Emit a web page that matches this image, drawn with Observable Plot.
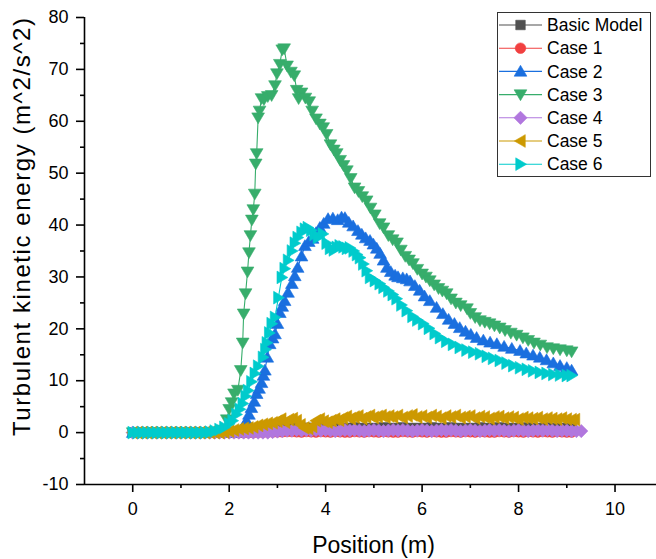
<!DOCTYPE html>
<html><head><meta charset="utf-8">
<script src="https://cdn.jsdelivr.net/npm/d3@7"></script>
<script src="https://cdn.jsdelivr.net/npm/@observablehq/plot@0.6"></script>
<style>
body{margin:0;background:#fff;}
#wrap{position:relative;width:656px;height:559px;font-family:"Liberation Sans",Arial,sans-serif;color:#000;}
#wrap svg{position:absolute;left:0;top:0;}
</style></head><body><div id="wrap"></div>
<script>
const seriesNames = ["Basic Model","Case 1","Case 2","Case 3","Case 4","Case 5","Case 6"];
const seriesColors = ["#515151","#F14040","#1A6FDF","#37AD6B","#B177DE","#CC9900","#00CBCC"];
const seriesSymbols = ["square","circle","up","down","diamond","left","right"];
const xTicks = [0,2,4,6,8,10];
const xMinor = [1,3,5,7,9];
const yTicks = [-10,0,10,20,30,40,50,60,70,80];
const yMinor = [-5,5,15,25,35,45,55,65,75];
const xDomain = [-1,10.86];
const yDomain = [-10,80];
const xTitle = "Position (m)";
const yTitle = "Turbulent kinetic energy (m^2/s^2)";

const gridX = [0,0.1,0.2,0.3,0.4,0.5,0.6,0.7,0.8,0.9,1,1.1,1.2,1.3,1.4,1.5,1.6,1.7,1.8,1.9,2,2.1,2.2,2.3,2.4,2.5,2.6,2.7,2.8,2.9,3,3.1,3.2,3.3,3.4,3.5,3.6,3.7,3.8,3.9,4,4.1,4.2,4.3,4.4,4.5,4.6,4.7,4.8,4.9,5,5.1,5.2,5.3,5.4,5.5,5.6,5.7,5.8,5.9,6,6.1,6.2,6.3,6.4,6.5,6.6,6.7,6.8,6.9,7,7.1,7.2,7.3,7.4,7.5,7.6,7.7,7.8,7.9,8,8.1,8.2,8.3,8.4,8.5,8.6,8.7,8.8,8.9,9,9.1];
const gridX4 = [0,0.1,0.2,0.3,0.4,0.5,0.6,0.7,0.8,0.9,1,1.1,1.2,1.3,1.4,1.5,1.6,1.7,1.8,1.9,2,2.1,2.2,2.3,2.4,2.5,2.6,2.7,2.8,2.9,3,3.1,3.2,3.3,3.4,3.5,3.6,3.7,3.8,3.9,4,4.1,4.2,4.3,4.4,4.5,4.6,4.7,4.8,4.9,5,5.1,5.2,5.3,5.4,5.5,5.6,5.7,5.8,5.9,6,6.1,6.2,6.3,6.4,6.5,6.6,6.7,6.8,6.9,7,7.1,7.2,7.3,7.4,7.5,7.6,7.7,7.8,7.9,8,8.1,8.2,8.3,8.4,8.5,8.6,8.7,8.8,8.9,9,9.1,9.2,9.3];

const basicY = [0,0,0,0,0,0,0,0,0,0,0,0,0,0,0,0,0,0,0,0,0,0,
 0.05,0.1,0.15,0.2,0.25,0.3,0.4,0.5,0.6,0.7,0.75,0.8,0.85,0.9,0.9,0.9,
 0.8,0.9,0.8,0.9,1.0,0.9,0.8,0.9,1.0,0.9,
 0.8,0.9,0.8,0.9,1.0,0.9,0.8,0.9,1.0,0.9,
 0.8,0.9,0.8,0.9,1.0,0.9,0.8,0.9,1.0,0.9,
 0.8,0.9,0.8,0.9,1.0,0.9,0.8,0.9,1.0,0.9,
 0.8,0.9,0.8,0.9,1.0,0.9,0.8,0.9,1.0,0.9,
 0.8,0.9,0.8,0.8];
const case1Y = [0,0,0,0,0,0,0,0,0,0,0,0,0,0,0,0,0,0,0,0,0,0,0,0,0,
 0.02,0.05,0.08,0.1,0.12,0.15,0.15,0.2,0.2,0.15,
 0.1,0.2,0.15,0.1,0.2,0.15,0.1,0.2,0.15,0.1,
 0.1,0.2,0.15,0.1,0.2,0.15,0.1,0.2,0.15,0.1,
 0.1,0.2,0.15,0.1,0.2,0.15,0.1,0.2,0.15,0.1,
 0.1,0.2,0.15,0.1,0.2,0.15,0.1,0.2,0.15,0.1,
 0.1,0.2,0.15,0.1,0.2,0.15,0.1,0.2,0.15,0.1,
 0.2,0.15,0.1,0.2,0.15,0.1,0.1];
const case4Y = [0,0,0,0,0,0,0,0,0,0,0,0,0,0,0,0,0,0,0,0,0,0,0,0,0,0,0,0,0,
 0.1,0.2,0.3,0.4,0.4,0.5,0.4,0.5,0.4,0.5,
 0.4,0.5,0.4,0.3,0.4,0.5,0.4,0.5,0.4,0.3,
 0.4,0.5,0.4,0.3,0.4,0.5,0.4,0.5,0.4,0.3,
 0.4,0.5,0.4,0.3,0.4,0.5,0.4,0.5,0.4,0.3,
 0.4,0.5,0.4,0.3,0.4,0.5,0.4,0.5,0.4,0.3,
 0.4,0.5,0.4,0.3,0.4,0.5,0.4,0.5,0.4,0.3,
 0.4,0.4,0.3,0.3,0.3];

const case2 = [[0,0],[0.1,0],[0.2,0],[0.3,0],[0.4,0],[0.5,0],[0.6,0],[0.7,0],[0.8,0],[0.9,0],[1,0],[1.1,0],[1.2,0],[1.3,0],[1.4,0],[1.5,0],[1.6,0],[1.7,0],[1.8,0],[1.9,0],[2,0],[2.1,0],[2.2,0.1],
 [2.25,0.5],[2.3,1.2],[2.36,2.3],[2.41,3.5],[2.46,4.8],[2.52,6],[2.57,7.5],[2.62,8.5],[2.67,9.6],[2.71,11],[2.74,12],[2.79,14.5],[2.84,17.1],[2.9,18.2],[2.95,19],[3,21],[3.05,23.1],[3.1,24.3],[3.15,25.4],[3.22,27],[3.3,28.7],[3.36,30.2],[3.42,31.8],[3.5,34],[3.57,36],[3.65,36.8],[3.73,37.4],[3.8,38.5],[3.88,39.5],[3.96,40.3],[4.05,41.2],[4.15,41.3],[4.25,41],[4.33,41.5],[4.4,41.4],[4.48,40.5],[4.57,39.8],[4.67,38.9],[4.75,38.2],[4.83,37.5],[4.92,37],[4.99,36.3],[5.06,35.5],[5.13,34.5],[5.2,33.2],[5.27,31.8],[5.35,31],[5.44,30.3],[5.5,30],[5.6,29.8],[5.68,29.6],[5.75,29.2],[5.85,28.3],[5.95,27.4],[6.05,26.3],[6.16,25.4],[6.3,24.1],[6.43,22.9],[6.55,21.8],[6.67,21],[6.78,20.2],[6.9,19.5],[7.01,18.9],[7.13,18.3],[7.27,17.8],[7.41,17.4],[7.55,17.1],[7.7,16.6],[7.86,16.2],[8.03,15.8],[8.16,15.3],[8.3,14.9],[8.44,14.5],[8.58,14],[8.72,13.4],[8.86,12.9],[9,12.5],[9.1,12]];

const case3 = [[0,0],[0.1,0],[0.2,0],[0.3,0],[0.4,0],[0.5,0],[0.6,0],[0.7,0],[0.8,0],[0.9,0],[1,0],[1.1,0],[1.2,0],[1.3,0],[1.4,0],[1.5,0],[1.6,0],[1.7,0],[1.8,0.1],
 [1.85,0.5],[1.95,2.5],[2,4.5],[2.05,5.8],[2.1,7.5],[2.18,8.2],[2.24,12],[2.28,17.3],[2.3,22.9],[2.34,26.8],[2.38,31],[2.41,34.7],[2.44,38],[2.47,41],[2.5,43],[2.53,46],[2.55,51.8],[2.57,53.8],[2.6,60.7],[2.63,62],[2.67,64.4],[2.72,64.2],[2.8,64.8],[2.88,65],[2.95,66.9],[2.99,69.2],[3.05,71],[3.1,73.8],[3.14,74],[3.2,70.7],[3.28,69.5],[3.35,68.8],[3.4,66],[3.44,64.4],[3.5,65.5],[3.58,64.5],[3.66,63.8],[3.72,62],[3.8,60.5],[3.88,59.5],[3.95,58.8],[4.02,57.5],[4.1,55.5],[4.17,54.5],[4.23,53.8],[4.3,52.5],[4.37,51.5],[4.44,50.5],[4.52,49],[4.6,47.2],[4.68,46.5],[4.76,45.5],[4.85,44.7],[4.93,43.3],[5.02,42],[5.12,40.3],[5.2,39.5],[5.3,38],[5.39,37.2],[5.48,36.6],[5.56,35.2],[5.65,34],[5.73,33.3],[5.81,32.6],[5.9,31.5],[6,30.6],[6.08,30],[6.16,29.3],[6.25,28.5],[6.34,27.8],[6.42,27.3],[6.51,26.8],[6.6,25.8],[6.7,25],[6.8,24.5],[6.93,23.9],[7,23],[7.1,22.2],[7.2,21.6],[7.3,21.3],[7.4,21],[7.5,20.6],[7.61,20.2],[7.72,19.7],[7.84,19.2],[7.96,18.8],[8.09,18.3],[8.2,17.8],[8.32,17.3],[8.45,16.9],[8.59,16.4],[8.72,16.2],[8.86,16],[9,15.8],[9.1,15.6]];

const case5 = [[0,0],[0.1,0],[0.2,0],[0.3,0],[0.4,0],[0.5,0],[0.6,0],[0.7,0],[0.8,0],[0.9,0],[1,0],[1.1,0],[1.2,0],[1.3,0],[1.4,0],[1.5,0],[1.6,0],[1.7,0],[1.8,0],
 [1.9,0.1],[2,0.3],[2.1,0.5],[2.2,0.7],[2.3,0.8],[2.4,0.9],[2.5,1.1],[2.6,1.4],[2.7,1.6],[2.8,1.8],[2.9,1.9],[3,2.2],
 [3.08,2.6],[3.16,2],[3.24,2.5],[3.32,2.7],[3.4,2.3],[3.48,1.5],[3.56,0.9],[3.64,0.8],[3.72,1.2],[3.8,2.3],
 [3.88,2.6],[3.96,2.2],[4.04,2],[4.12,2.3],[4.2,2.6],[4.28,2.4],[4.36,2.8],[4.44,3.1],[4.52,2.7],[4.6,3],
 [4.68,3.2],[4.76,2.7],[4.84,3],[4.92,3.3],[5,2.9],[5.08,3.1],[5.16,3.3],[5.24,3],[5.32,3.2],
 [5.4,3],[5.5,3.3],[5.6,2.9],[5.7,3.2],[5.8,3.4],[5.9,3],[6,3.2],[6.1,2.9],[6.2,3.3],[6.3,3.1],
 [6.4,2.8],[6.5,3.2],[6.6,3],[6.7,3.3],[6.8,2.9],[6.9,3.1],[7,3.2],[7.1,2.8],[7.2,3.1],[7.3,3],
 [7.4,2.7],[7.5,3],[7.6,3.1],[7.7,2.8],[7.8,3],[7.9,2.9],[8,2.6],[8.1,2.9],[8.2,2.8],[8.3,2.7],
 [8.4,2.9],[8.5,2.6],[8.6,2.8],[8.7,2.7],[8.8,2.6],[8.9,2.8],[9,2.6],[9.1,2.5],[9.17,2.5]];

const case6 = [[0,0],[0.1,0],[0.2,0],[0.3,0],[0.4,0],[0.5,0],[0.6,0],[0.7,0],[0.8,0],[0.9,0],[1,0],[1.1,0],[1.2,0],[1.3,0],[1.4,0],[1.5,0],[1.6,0.1],
 [1.7,0.3],[1.8,0.6],[1.9,1],[2,1.7],[2.07,2.3],[2.15,3.5],[2.22,4.5],[2.28,5.6],[2.34,7],[2.39,8.1],[2.46,9.8],[2.53,11.4],[2.6,12.8],[2.7,14.5],[2.75,16],[2.78,17.3],[2.83,19.2],[2.88,21],[2.95,22.2],[3.02,26],[3.09,29.9],[3.15,31.6],[3.22,33.2],[3.3,35],[3.36,36.5],[3.42,37.6],[3.5,38.6],[3.57,39.2],[3.63,39.5],[3.7,39],[3.77,38.2],[3.84,37.6],[3.94,38.3],[4.02,36.5],[4.09,35.5],[4.17,35.2],[4.23,35.7],[4.29,36],[4.37,35.8],[4.44,35.5],[4.5,35.6],[4.58,35],[4.65,34.3],[4.71,33.7],[4.78,32.5],[4.85,31.2],[4.92,29.9],[5.02,29.3],[5.12,28.7],[5.2,28],[5.3,27.3],[5.39,26.6],[5.47,25.8],[5.57,24.6],[5.68,23.5],[5.8,22.4],[5.9,21.7],[6.02,21],[6.14,20.1],[6.26,19.1],[6.37,18.3],[6.5,17.6],[6.64,17],[6.78,16.4],[6.92,15.9],[7.06,15.5],[7.2,15.2],[7.34,14.7],[7.47,14.3],[7.61,13.9],[7.75,13.4],[7.89,12.9],[8.03,12.5],[8.17,12.2],[8.3,11.9],[8.44,11.6],[8.58,11.4],[8.72,11.2],[8.86,11.1],[9,11],[9.1,11]];

// build point tables
const zip = (xs, ys) => xs.map((x, i) => [x, ys[i]]);
const seriesData = [zip(gridX, basicY), zip(gridX, case1Y), case2, case3, zip(gridX4, case4Y), case5, case6];

function makeSymbol(kind) {
  return {
    draw(ctx, size) {
      const r = Math.sqrt(size / Math.PI);
      if (kind === "square") { const s = r * 0.9; ctx.moveTo(-s, -s); ctx.lineTo(s, -s); ctx.lineTo(s, s); ctx.lineTo(-s, s); ctx.closePath(); }
      else if (kind === "circle") { ctx.moveTo(r, 0); ctx.arc(0, 0, r, 0, 2 * Math.PI); }
      else if (kind === "up") { ctx.moveTo(0, -1.15 * r); ctx.lineTo(1.2 * r, 0.9 * r); ctx.lineTo(-1.2 * r, 0.9 * r); ctx.closePath(); }
      else if (kind === "down") { ctx.moveTo(0, 1.15 * r); ctx.lineTo(1.2 * r, -0.9 * r); ctx.lineTo(-1.2 * r, -0.9 * r); ctx.closePath(); }
      else if (kind === "diamond") { const s = 1.25 * r; ctx.moveTo(0, -s); ctx.lineTo(s, 0); ctx.lineTo(0, s); ctx.lineTo(-s, 0); ctx.closePath(); }
      else if (kind === "left") { ctx.moveTo(-1.15 * r, 0); ctx.lineTo(0.9 * r, -1.2 * r); ctx.lineTo(0.9 * r, 1.2 * r); ctx.closePath(); }
      else if (kind === "right") { ctx.moveTo(1.15 * r, 0); ctx.lineTo(-0.9 * r, -1.2 * r); ctx.lineTo(-0.9 * r, 1.2 * r); ctx.closePath(); }
    }
  };
}
const symbolObjs = seriesSymbols.map(makeSymbol);
const R = 5.3;

const marks = [];
seriesData.forEach((data, i) => {
  marks.push(Plot.line(data, {x: d => d[0], y: d => d[1], stroke: seriesColors[i], strokeWidth: 1.1}));
  marks.push(Plot.dot(data, {x: d => d[0], y: d => d[1], fill: seriesColors[i], stroke: seriesColors[i], strokeWidth: 0.6, r: R, symbol: symbolObjs[i]}));
});

marks.push(
  Plot.ruleX([xDomain[0]], {stroke: "#000", strokeWidth: 1.6}),
  Plot.ruleY([yDomain[0]], {stroke: "#000", strokeWidth: 1.6}),
  Plot.axisX(xTicks, {tickSize: 8, tickPadding: 10, fontSize: 18, strokeWidth: 1.6, label: null, tickFormat: d => String(d)}),
  Plot.axisX(xMinor, {tickSize: 4, text: null, strokeWidth: 1.6, label: null}),
  Plot.axisY(yTicks, {tickSize: 8, tickPadding: 8, fontSize: 18, strokeWidth: 1.6, label: null, tickFormat: d => String(d)}),
  Plot.axisY(yMinor, {tickSize: 4, text: null, strokeWidth: 1.6, label: null}),
  Plot.text([xTitle], {text: d => d, frameAnchor: "bottom", textAnchor: "middle", lineAnchor: "middle", dy: 61, dx: 3, fontSize: 23, fill: "#000"}),
  Plot.text([yTitle], {text: d => d, frameAnchor: "left", textAnchor: "middle", lineAnchor: "middle", rotate: -90, dx: -62, dy: -24, fontSize: 24, fill: "#000", className: "ytitle"})
);

const chart = Plot.plot({
  width: 656, height: 559,
  marginLeft: 84, marginRight: 0, marginTop: 17, marginBottom: 75,
  x: {domain: xDomain},
  y: {domain: yDomain},
  style: {fontFamily: '"Liberation Sans", Arial, sans-serif', color: "#000", background: "#fff"},
  marks
});
const wrap = document.getElementById("wrap");
wrap.appendChild(chart);

// widen the y title to span the same height as in the reference
d3.select(chart).selectAll("text").filter(function () { return this.textContent === yTitle; })
  .attr("textLength", 418).attr("lengthAdjust", "spacing");

// legend overlay
const lg = d3.select(wrap).append("svg").attr("width", 656).attr("height", 559)
  .style("font-family", '"Liberation Sans", Arial, sans-serif');
lg.append("rect").attr("x", 497.5).attr("y", 12.5).attr("width", 153).attr("height", 164)
  .attr("fill", "#fff").attr("stroke", "#333").attr("stroke-width", 1);
seriesNames.forEach((name, i) => {
  const y = 25 + i * 23.2;
  const g = lg.append("g");
  g.append("line").attr("x1", 499).attr("x2", 542).attr("y1", y).attr("y2", y)
    .attr("stroke", seriesColors[i]).attr("stroke-width", 1.1);
  g.append("path").attr("d", d3.symbol(symbolObjs[i], R * R * Math.PI)())
    .attr("transform", `translate(520.5,${y})`).attr("fill", seriesColors[i])
    .attr("stroke", seriesColors[i]).attr("stroke-width", 0.6);
  g.append("text").attr("x", 547).attr("y", y).attr("dy", "0.35em")
    .attr("font-size", 17.5).attr("fill", "#000").text(name);
});
</script></body></html>
